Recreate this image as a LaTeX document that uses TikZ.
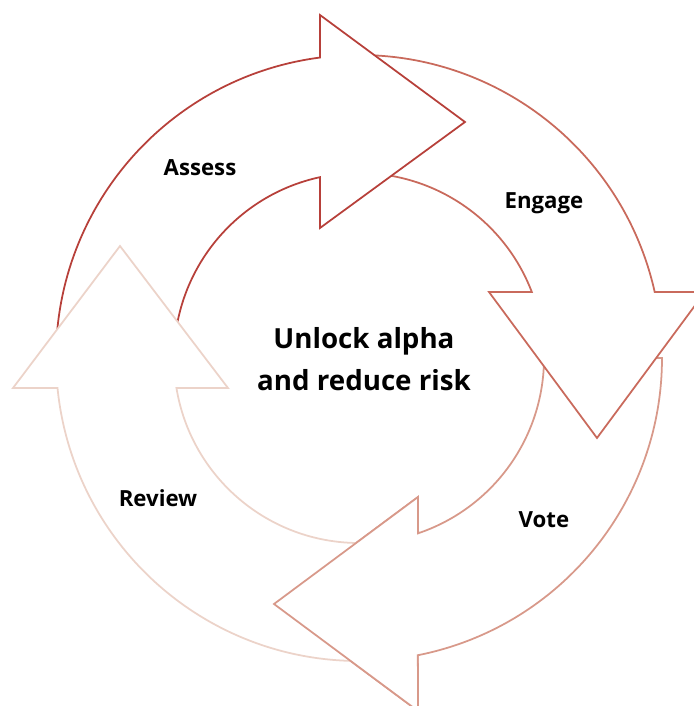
\documentclass[tikz,border=0pt]{standalone}
\usepackage{fontspec}
\setmainfont{Open Sans}
\usepackage{tikz}
\usetikzlibrary{positioning}
\definecolor{assesscol}{RGB}{183,64,58}
\definecolor{engagecol}{RGB}{201,106,92}
\definecolor{votecol}{RGB}{216,153,138}
\definecolor{reviewcol}{RGB}{236,211,201}
\tikzset{every picture/.style={line width=1.25pt},
arrowshape/.style={draw=#1,fill=white,line join=miter},
steplabel/.style={font=\bfseries\fontsize{15.8}{18}\selectfont},
centrelabel/.style={align=center,font=\bfseries\fontsize{19.7}{29.5}\selectfont}}

\begin{document}
\begin{tikzpicture}[x=0.025cm,y=0.025cm]
\useasboundingbox (-359,-348) rectangle (335,358);
\clip (-359,-348) rectangle (335,358);
\def\voteshape{(0:303) arc[start angle=0,end angle=-78.8,radius=303] -- (59,-353) -- (-85,-246) -- (59,-139) -- (-71.4:185) arc[start angle=-71.4,end angle=0,radius=185] -- cycle}
\draw[arrowshape=votecol] \voteshape;
\draw[arrowshape=engagecol] (90:303) arc[start angle=90,end angle=12.6,radius=303] -- (346,66) -- (238,-80) -- (130,66) -- (20.9:185) arc[start angle=20.9,end angle=90,radius=185] -- cycle;
\draw[arrowshape=assesscol] (180:303) arc[start angle=180,end angle=97.4,radius=303] -- (-39,343) -- (106,236) -- (-39,130) -- (102.2:185) arc[start angle=102.2,end angle=180,radius=185] -- cycle;
\draw[arrowshape=reviewcol] (270:303) arc[start angle=270,end angle=185.7,radius=303] -- (-346,-30) -- (-239,112) -- (-131,-30) -- (189.3:185) arc[start angle=189.3,end angle=270,radius=185] -- cycle;
\begin{scope}
\clip (-400,-400) rectangle (61,0);
\draw[arrowshape=votecol] \voteshape;
\end{scope}
\foreach \name/\pos/\txt in {assess/{-159,190}/Assess, engage/{185,155}/Engage, vote/{185,-162}/Vote, review/{-201,-140}/Review}
  \node[steplabel] (\name) at (\pos) {\txt};
\node[centrelabel] (centre) at (5,-1) {Unlock alpha\\and reduce risk};
\end{tikzpicture}
\end{document}
